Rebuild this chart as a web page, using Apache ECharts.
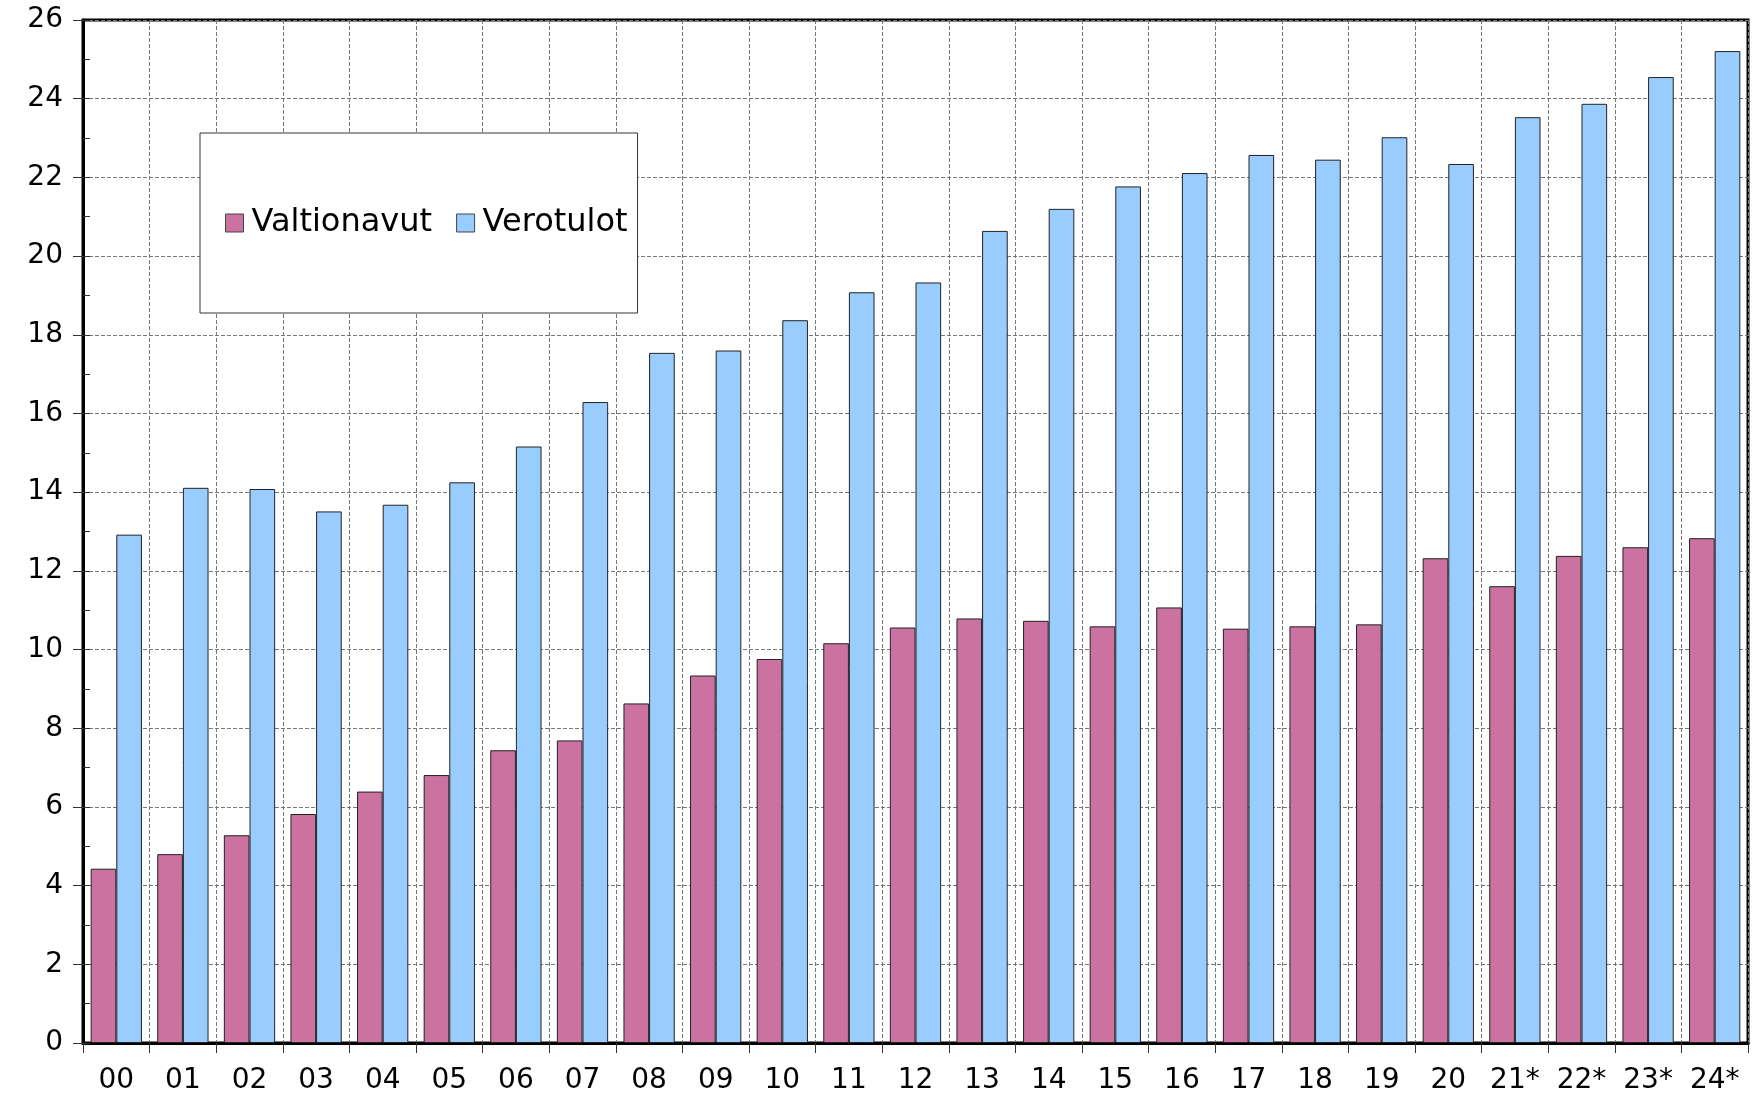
<!DOCTYPE html>
<html>
<head>
<meta charset="utf-8">
<script src="https://cdn.jsdelivr.net/npm/echarts@6/dist/echarts.min.js"></script>
<style>
html,body{margin:0;padding:0;background:#fff;}
#chart{width:1752px;height:1100px;}
</style>
</head>
<body>
<div id="chart"></div>
<script>
//vuodet
var years = ['00','01','02','03','04','05','06','07','08','09','10','11','12','13','14','15','16','17','18','19','20','21*','22*','23*','24*'];
//valtionavut
var valtionavut = [4.43,4.80,5.28,5.82,6.39,6.81,7.44,7.69,8.63,9.34,9.76,10.16,10.56,10.79,10.73,10.59,11.07,10.53,10.59,10.64,12.32,11.61,12.38,12.60,12.83];
//verotulot
var verotulot = [12.92,14.11,14.08,13.51,13.68,14.25,15.16,16.29,17.54,17.60,18.37,19.08,19.33,20.64,21.20,21.77,22.11,22.57,22.45,23.02,22.34,23.53,23.87,24.55,25.21];

var fontName = 'DejaVu Sans';
var myChart = echarts.init(document.getElementById('chart'));

var option = {
	animation: false,
	backgroundColor: '#fff',
	grid: {
		left: 83, right: 4, top: 20, bottom: 57,
		show: true, borderColor: '#000', borderWidth: 3, backgroundColor: 'transparent'
	},
	legend: {
		left: 200, top: 133,
		padding: [74, 10, 74, 25],
		backgroundColor: '#fff',
		borderColor: '#333',
		borderWidth: 1,
		itemWidth: 18, itemHeight: 18, itemGap: 24,
		icon: 'rect',
		itemStyle: { borderColor: '#444', borderWidth: 1 },
		textStyle: { fontFamily: fontName, fontSize: 32, color: '#000', padding: [0, 0, 0, 3] },
		data: ['Valtionavut', 'Verotulot']
	},
	xAxis: {
		type: 'category',
		data: years,
		boundaryGap: true,
		axisLine: { lineStyle: { color: '#000', width: 3 } },
		axisTick: { show: true, length: 10, lineStyle: { color: '#333', width: 1 } },
		axisLabel: { fontFamily: fontName, fontSize: 28, color: '#000', margin: 24 },
		splitLine: { show: true, lineStyle: { color: '#777', type: [4, 2], width: 1 } }
	},
	yAxis: [{
		type: 'value',
		min: 0, max: 26, interval: 2,
		axisLine: { show: true, lineStyle: { color: '#000', width: 3 } },
		axisTick: { show: true, length: 10, lineStyle: { color: '#333', width: 1 } },
		axisLabel: { fontFamily: fontName, fontSize: 28, color: '#000', margin: 20 },
		splitLine: { show: true, lineStyle: { color: '#777', type: [4, 2], width: 1 } }
	}, {
		// sisäpuolen pienet tikit
		type: 'value',
		position: 'left',
		min: 0, max: 26, interval: 1,
		axisLine: { show: false },
		axisTick: { show: true, inside: true, length: 7, lineStyle: { color: '#333', width: 1 } },
		axisLabel: { show: false },
		splitLine: { show: false }
	}],
	series: [{
		name: 'Valtionavut',
		type: 'bar',
		data: valtionavut,
		barGap: '0%',
		barCategoryGap: '23%',
		itemStyle: { color: '#CC72A0', borderColor: '#222', borderWidth: 1 }
	}, {
		name: 'Verotulot',
		type: 'bar',
		data: verotulot,
		barGap: '0%',
		barCategoryGap: '23%',
		itemStyle: { color: '#99CCFF', borderColor: '#222', borderWidth: 1 }
	}]
};
myChart.setOption(option);
</script>
</body>
</html>
